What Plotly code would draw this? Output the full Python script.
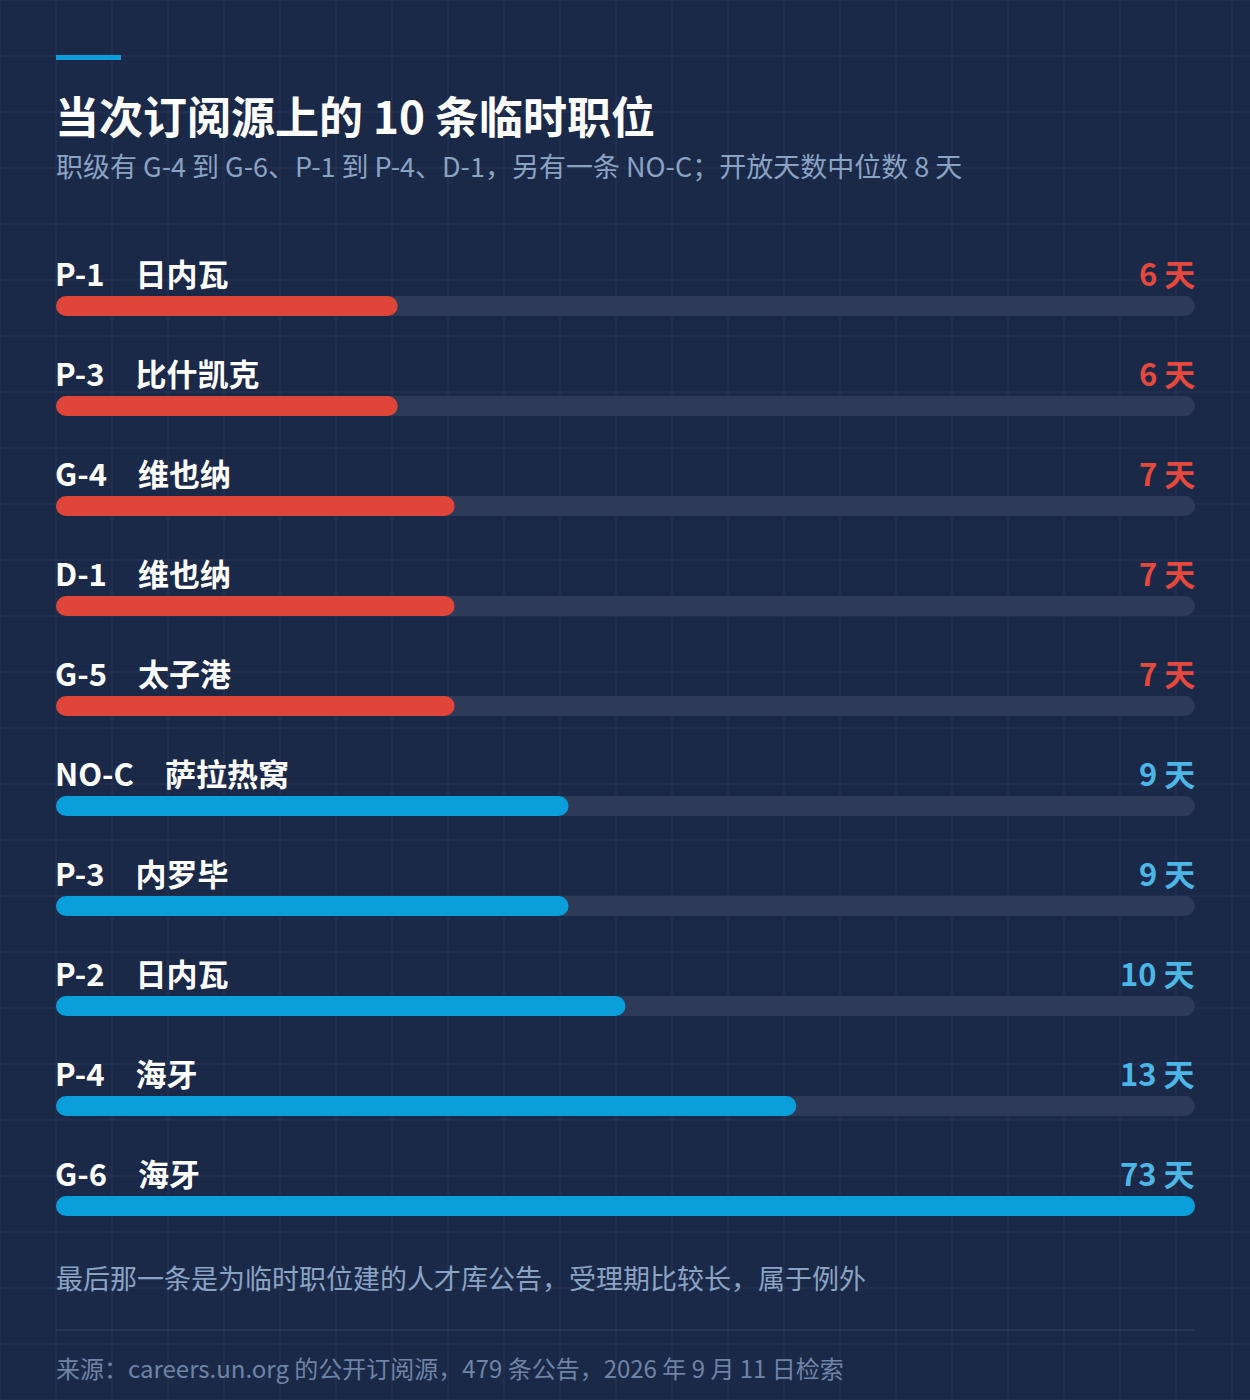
import plotly.graph_objects as go

# ---- data ----
grades = ["P-1", "P-3", "G-4", "D-1", "G-5", "NO-C", "P-3", "P-2", "P-4", "G-6"]
cities = ["日内瓦", "比什凯克", "维也纳", "维也纳", "太子港", "萨拉热窝", "内罗毕", "日内瓦", "海牙", "海牙"]
days = [6, 6, 7, 7, 7, 9, 9, 10, 13, 73]
MEDIAN_DAYS = 8
AXIS_MAX = 20  # scale cap; longer bars are clamped to full width

title = "当次订阅源上的 10 条临时职位"
subtitle = "职级有 G-4 到 G-6、P-1 到 P-4、D-1，另有一条 NO-C；开放天数中位数 8 天"
note = "最后那一条是为临时职位建的人才库公告，受理期比较长，属于例外"
source = "来源：careers.un.org 的公开订阅源，479 条公告，2026 年 9 月 11 日检索"

# ---- style ----
W, H = 1250, 1400
BG = "#1b2949"
GRID = "rgba(255,255,255,0.055)"
TRACK = "#2d3a58"
RED = "#e0453a"
RED_TXT = "#e5483d"
BLUE = "#0a9edb"
BLUE_TXT = "#4cb6e6"
MUTED = "#8aa3c3"
MUTED2 = "#6f84a5"
FONT = "Noto Sans CJK SC"
RADIUS = 10
BAR_W = 0.2

def px(x):
    return x / W

def py(y):
    return 1 - y / H

n = len(days)
rows = list(range(n))
shown = [min(d, AXIS_MAX) for d in days]
bar_colors = [RED if d < MEDIAN_DAYS else BLUE for d in days]
txt_colors = [RED_TXT if d < MEDIAN_DAYS else BLUE_TXT for d in days]

fig = go.Figure()

def rounded_bar(values, colors):
    # plotly rounds only the outer end of a bar, so each bar is drawn as two
    # overlapping halves: one grows leftwards to 0, one grows rightwards to the value
    left_base = [v * 0.6 for v in values]
    fig.add_trace(go.Bar(
        x=[-b for b in left_base], base=left_base, y=rows, orientation="h", width=BAR_W,
        marker=dict(color=colors, cornerradius=RADIUS, line=dict(width=0)),
        hoverinfo="skip", showlegend=False,
    ))
    right_base = [v * 0.4 for v in values]
    fig.add_trace(go.Bar(
        x=[v - b for v, b in zip(values, right_base)], base=right_base, y=rows, orientation="h", width=BAR_W,
        marker=dict(color=colors, cornerradius=RADIUS, line=dict(width=0)),
        hoverinfo="skip", showlegend=False,
    ))

rounded_bar([AXIS_MAX] * n, TRACK)
rounded_bar(shown, bar_colors)

shapes = []
# background grid
for gx in range(0, W + 1, 56):
    shapes.append(dict(type="line", xref="paper", yref="paper", x0=px(gx), x1=px(gx), y0=0, y1=1,
                       line=dict(color=GRID, width=1), layer="below"))
for gy in range(0, H + 1, 56):
    shapes.append(dict(type="line", xref="paper", yref="paper", x0=0, x1=1, y0=py(gy), y1=py(gy),
                       line=dict(color=GRID, width=1), layer="below"))
# accent line on top
shapes.append(dict(type="rect", xref="paper", yref="paper", x0=px(56), x1=px(121), y0=py(60), y1=py(55),
                   fillcolor=BLUE, line=dict(width=0), layer="above"))
# separator line above source
shapes.append(dict(type="line", xref="paper", yref="paper", x0=px(56), x1=px(1195), y0=py(1330), y1=py(1330),
                   line=dict(color="rgba(255,255,255,0.12)", width=1), layer="above"))

annotations = []
annotations.append(dict(text=title, xref="paper", yref="paper", x=px(53), y=py(115), xanchor="left", yanchor="middle",
                        showarrow=False, font=dict(family=FONT, size=44, color="#ffffff", weight=700)))
annotations.append(dict(text=subtitle, xref="paper", yref="paper", x=px(54), y=py(166), xanchor="left", yanchor="middle",
                        showarrow=False, font=dict(family=FONT, size=27, color=MUTED)))
annotations.append(dict(text=note, xref="paper", yref="paper", x=px(54), y=py(1277), xanchor="left", yanchor="middle",
                        showarrow=False, font=dict(family=FONT, size=27, color=MUTED)))
annotations.append(dict(text=source, xref="paper", yref="paper", x=px(54), y=py(1367), xanchor="left", yanchor="middle",
                        showarrow=False, font=dict(family=FONT, size=24, color=MUTED2)))

for i in rows:
    annotations.append(dict(text=f"{grades[i]}\u3000{cities[i]}", xref="x", yref="y", x=0, y=i, yshift=34, xshift=-3,
                            xanchor="left", yanchor="middle", showarrow=False,
                            font=dict(family=FONT, size=31, color="#ffffff", weight=700)))
    annotations.append(dict(text=f"{days[i]} 天", xref="x", yref="y", x=AXIS_MAX, y=i, yshift=34, xshift=2,
                            xanchor="right", yanchor="middle", showarrow=False,
                            font=dict(family=FONT, size=31, color=txt_colors[i], weight=700)))

fig.update_layout(
    width=W, height=H,
    margin=dict(l=0, r=0, t=0, b=0),
    paper_bgcolor=BG, plot_bgcolor="rgba(0,0,0,0)",
    barmode="overlay",
    showlegend=False,
    xaxis=dict(domain=[px(56), px(1195)], range=[0, AXIS_MAX], visible=False, fixedrange=True),
    yaxis=dict(domain=[py(1256), py(256)], range=[n - 0.5, -0.5], visible=False, fixedrange=True),
    shapes=shapes,
    annotations=annotations,
    font=dict(family=FONT),
)

fig.write_html("out.html", config={"displayModeBar": False, "staticPlot": True},
               post_script="document.body.style.margin='0';document.body.style.overflow='hidden';")
